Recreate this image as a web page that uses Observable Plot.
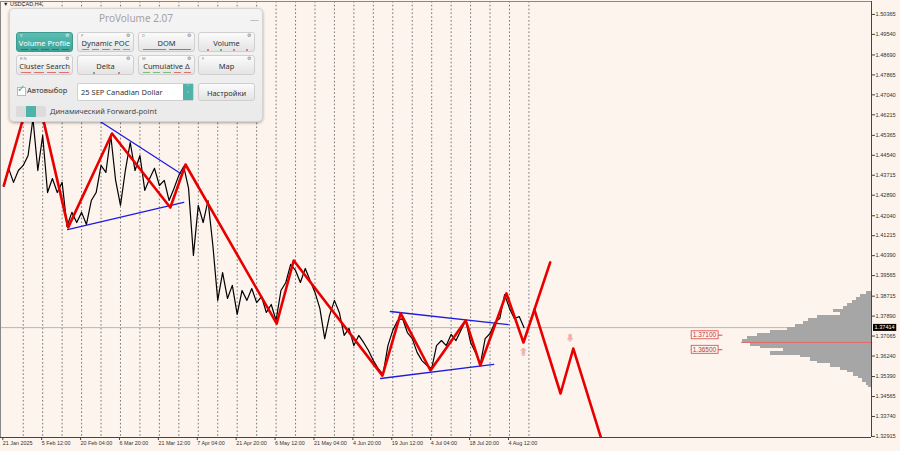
<!DOCTYPE html>
<html><head><meta charset="utf-8">
<script src="https://cdn.jsdelivr.net/npm/d3@7"></script>
<script src="https://cdn.jsdelivr.net/npm/@observablehq/plot@0.6"></script>
<style>
html,body{margin:0;padding:0;background:#fdf4ee;}
#wrap{position:relative;width:900px;height:451px;overflow:hidden;background:#fdf4ee;}
#sym{position:absolute;left:3px;top:1px;font:5.5px "Liberation Sans",Arial,sans-serif;color:#222;}
#panel{position:absolute;left:9px;top:8px;width:252px;height:112px;background:linear-gradient(#f4f4f4,#eaeaea);border:1px solid #d4d4d4;border-radius:5px;box-shadow:0 1px 3px rgba(0,0,0,0.35);font-family:"Noto Sans","Open Sans",sans-serif;}
#ptitle{position:absolute;left:0;top:2px;width:100%;text-align:center;font-size:10px;color:#a3a3a3;}
#pmin{position:absolute;left:240px;top:4px;font-size:9px;color:#999;}
.btn{position:absolute;width:57px;height:20px;background:linear-gradient(#fbfbfb,#e4e4e4);border:1px solid #cfcfcf;border-radius:3px;box-sizing:border-box;}
.btn .lab{position:absolute;left:0;top:5px;width:100%;text-align:center;font-size:7.5px;color:#333;}
.btn .key{position:absolute;left:3px;top:0px;font-size:4px;color:#888;}
.btn .gear{position:absolute;right:3px;top:-1px;font-size:5px;color:#777;}
.btn.act{background:linear-gradient(#5cbdb3,#3ea398);border-color:#3a9a90;}
.btn.act .lab{color:#fff;}
.btn.act .key,.btn.act .gear{color:#e8f5f3;}
.mk{position:absolute;}
#chk{position:absolute;left:7px;top:78px;width:7px;height:7px;border:1px solid #bbb;background:#fff;}
#chkv{position:absolute;left:7px;top:72px;font-size:10px;color:#3aa69b;}
#auto{position:absolute;left:17px;top:76px;font-size:7.5px;color:#333;}
#dd{position:absolute;left:67px;top:74px;width:117px;height:18px;background:#fff;border:1px solid #d0d0d0;border-radius:2px;box-sizing:border-box;}
#ddt{position:absolute;left:3px;top:3px;font-size:7.5px;color:#333;}
#dda{position:absolute;right:0;top:0;width:10px;height:16px;background:#4fb3a9;color:#fff;font-size:5px;text-align:center;line-height:7px;}
#set{top:74px;left:188px;height:18px;}
#tog{position:absolute;left:6px;top:97px;width:30px;height:11px;background:#dcdcdc;border-radius:2px;}
#togk{position:absolute;left:10px;top:0;width:10px;height:11px;background:#4fb3a9;}
#fwd{position:absolute;left:40px;top:97px;font-size:7.5px;color:#444;}
</style></head><body>
<div id="wrap">
<div id="chart"></div>
<div id="sym">▼ USDCAD,H4</div>
<div id="panel">
 <div id="ptitle">ProVolume 2.07</div>
 <div id="pmin">—</div>
 <div id="chk"></div>
 <div id="chkv">✓</div>
 <div id="auto">Автовыбор</div>
 <div id="dd"><div id="ddt">25 SEP Canadian Dollar</div><div id="dda">˄<br>˅</div></div>
 <div class="btn" id="set"><div class="lab" style="top:4px">Настройки</div></div>
 <div id="tog"><div id="togk"></div></div>
 <div id="fwd">Динамический Forward-point</div>
</div>
</div>
<script>
// ---------- data ----------
const barStep = 8; // H4 bars between successive estimated closes
const closes = [
 1.4325,1.4400,1.4342,1.4391,1.4412,1.4453,1.4606,1.4391,1.4536,1.4300,
 1.4358,1.4300,1.4342,1.4160,1.4218,1.4176,1.4218,1.4168,1.4267,1.4300,
 1.4412,1.4383,1.4536,1.4350,1.4247,1.4391,1.4507,1.4391,1.4453,1.4309,
 1.4358,1.4400,1.4329,1.4350,1.4267,1.4317,1.4371,1.4408,1.4317,1.4040,
 1.4247,1.4176,1.4267,1.4081,1.3854,1.3969,1.3862,1.3916,1.3796,1.3895,
 1.3854,1.3903,1.3845,1.3870,1.3804,1.3837,1.3771,1.3895,1.3928,1.4003,
 1.3978,1.3928,1.3986,1.3936,1.3887,1.3821,1.3696,1.3792,1.3854,1.3804,
 1.3709,1.3738,1.3667,1.3709,1.3680,1.3647,1.3605,1.3572,1.3548,1.3667,
 1.3730,1.3771,1.3779,1.3721,1.3696,1.3639,1.3605,1.3585,1.3572,1.3667,
 1.3688,1.3667,1.3713,1.3688,1.3730,1.3771,1.3680,1.3639,1.3589,1.3696,
 1.3717,1.3763,1.3779,1.3878,1.3821,1.3779,1.3787,1.3741
];
const zzBars   = [0,50,106,178,274,299,449,477,623,653,702,760,784,827,855,899];
const zzPrices = [1.4329,1.4764,1.4156,1.4544,1.4238,1.4416,1.3758,1.4019,1.3543,1.3800,1.3564,1.3771,1.3585,1.3883,1.3680,1.4011];
const projBars   = [873,916,937,985];
const projPrices = [1.3816,1.3469,1.3655,1.3266];
const trendIds    = ["a","a","b","b","c","c","d","d"];
const trendBars   = [105,296, 151,291, 636,830, 620,806];
const trendPrices = [1.4147,1.4259, 1.4606,1.4379, 1.3808,1.3754, 1.3531,1.3589];
const profPrices = [1.3883,1.3871,1.3858,1.3846,1.3833,1.3821,1.3809,1.3796,1.3784,1.3771,1.3759,1.3747,1.3734,1.3722,1.3709,1.3697,1.3685,1.3672,1.3660,1.3647,1.3635,1.3623,1.3610,1.3598,1.3585,1.3573,1.3561,1.3548,1.3536,1.3523,1.3511,1.3499];
const profVols   = [5,11,15,19,24,28,38,31,54,63,68,76,84,101,114,124,129,121,111,88,101,71,61,54,41,31,24,18,13,9,5,3];
const pocPrice = 1.3680;
const currentPrice = 1.37414;
const levelPrices = [1.37100, 1.36500];
const levelTexts  = ["1.37100", "1.36500"];
const arrowBars   = [855, 932];
const arrowPrices = [1.3639, 1.3697];
const arrowGlyphs = ["⇧", "⇩"];
const yTicks = [1.50365,1.49540,1.48690,1.47865,1.47040,1.46215,1.45365,1.44540,1.43715,1.42890,1.42040,1.41215,1.40390,1.39565,1.38715,1.37890,1.37065,1.36240,1.35390,1.34565,1.33740,1.32915];
const xTickBars = [0,64,128,192,256,320,384,448,512,576,640,704,768,832];
const xTickLabels = ["21 Jan 2025","5 Feb 12:00","20 Feb 04:00","6 Mar 20:00","21 Mar 12:00","7 Apr 04:00","21 Apr 20:00","6 May 12:00","21 May 04:00","4 Jun 20:00","19 Jun 12:00","4 Jul 04:00","18 Jul 20:00","4 Aug 12:00"];
const gridBars = [32,64,96,128,160,192,224,256,288,320,352,384,416,448,480,512,544,576,608,640,672,704,736,768,800,832,864];
const xDomain = [-5.4, 1427.6];
const yDomain = [1.3287, 1.5090];

// ---------- derived tables ----------
const series = closes.map((p, i) => ({bar: i * barStep, price: p}));
const zigzag = zzBars.map((b, i) => ({bar: b, price: zzPrices[i]}));
const proj = projBars.map((b, i) => ({bar: b, price: projPrices[i]}));
const trends = trendBars.map((b, i) => ({id: trendIds[i], bar: b, price: trendPrices[i]}));
const xRight = xDomain[1];
const volToBars = 1.6453; // profile length units -> bar units
const rowHalf = 0.0007;
const profile = profPrices.map((p, i) => ({price: p, vol: profVols[i]}));
const levels = levelPrices.map((p, i) => ({price: p, text: levelTexts[i]}));
const arrows = arrowBars.map((b, i) => ({bar: b, price: arrowPrices[i], g: arrowGlyphs[i]}));
const levelBar = 1131, levelTickEnd = 1183, pocStart = 1214;
const curText = d3.format(".5f")(currentPrice);

const chart = Plot.plot({
  width: 900, height: 451,
  marginLeft: 0, marginRight: 29, marginTop: 1, marginBottom: 14,
  style: {background: "transparent", fontFamily: "Liberation Sans, Arial, sans-serif", color: "#333"},
  x: {domain: xDomain, axis: null},
  y: {domain: yDomain, axis: null},
  marks: [
    Plot.ruleX(gridBars, {stroke: "#555", strokeWidth: 0.8, strokeDasharray: "1.6,2.2"}),
    Plot.ruleY([currentPrice], {stroke: "#b8b8b8", strokeWidth: 1}),
    Plot.rect(profile, {x1: d => xRight - d.vol * volToBars, x2: xRight, y1: d => d.price - rowHalf, y2: d => d.price + rowHalf, fill: "#a6a6a6", shapeRendering: "crispEdges"}),
    Plot.ruleY([pocPrice], {x1: pocStart, x2: xRight, stroke: "#e06a6a", strokeWidth: 1}),
    Plot.ruleY(levels, {y: "price", x1: levelBar, x2: levelTickEnd, stroke: "#d44", strokeWidth: 1}),
    Plot.line(series, {x: "bar", y: "price", stroke: "#000", strokeWidth: 1.2, clip: true}),
    Plot.line(trends, {x: "bar", y: "price", z: "id", stroke: "#1c1ce0", strokeWidth: 1.3}),
    Plot.line(zigzag, {x: "bar", y: "price", stroke: "#e80000", strokeWidth: 2.6, clip: true}),
    Plot.line(proj, {x: "bar", y: "price", stroke: "#e80000", strokeWidth: 2.6, clip: true}),
    Plot.text(arrows, {x: "bar", y: "price", text: "g", fill: "#fff", stroke: "#e87070", strokeWidth: 0.8, fontSize: 9, fontFamily: "DejaVu Sans"}),
    Plot.text(levels, {x: levelBar, y: "price", text: "text", textAnchor: "start", dx: 1.5, fill: "#b83a3a", fontSize: 6.5}),
    Plot.ruleX([xRight], {stroke: "#444", strokeWidth: 1}),
    Plot.ruleY([yDomain[0]], {stroke: "#444", strokeWidth: 1}),
    Plot.ruleY([yDomain[1]], {stroke: "#888", strokeWidth: 1}),
    Plot.ruleX([xDomain[0]], {stroke: "#888", strokeWidth: 1}),
    Plot.axisY(yTicks, {anchor: "right", label: null, tickSize: 3, tickPadding: 1, fontSize: 5.6, tickFormat: d3.format(".5f"), stroke: "#444", fill: "#333"}),
    Plot.axisX(xTickBars, {anchor: "bottom", label: null, tickSize: 3, tickPadding: 1, fontSize: 5.4, textAnchor: "start", dx: -1, tickFormat: d => xTickLabels[xTickBars.indexOf(d)], stroke: "#444", fill: "#333"}),
    Plot.text([currentPrice], {x: xRight, y: d => d, text: () => curText, textAnchor: "start", dx: 3, fill: "#fff", fontSize: 5.6})
  ]
});
document.getElementById("chart").appendChild(chart);

// boxes behind level labels and current price label
const svg = chart.tagName.toLowerCase() === "svg" ? chart : chart.querySelector("svg");
svg.querySelectorAll("text").forEach(t => {
  const s = t.textContent;
  const isLevel = levelTexts.includes(s);
  const g = t.closest("g");
  const isCur = s === curText && g && g.getAttribute("fill") === "#fff";
  if (!isLevel && !isCur) return;
  const b = t.getBBox();
  const r = document.createElementNS("http://www.w3.org/2000/svg", "rect");
  r.setAttribute("x", b.x - 1.5); r.setAttribute("y", b.y - 0.5);
  r.setAttribute("width", b.width + 3); r.setAttribute("height", b.height + 1);
  const tr = t.getAttribute("transform"); if (tr) r.setAttribute("transform", tr);
  if (isLevel) { r.setAttribute("fill", "#fdf4ee"); r.setAttribute("stroke", "#d44"); r.setAttribute("stroke-width", "0.8"); }
  else { r.setAttribute("fill", "#000"); }
  t.parentNode.insertBefore(r, t);
});

// ---------- panel buttons ----------
const panel = document.getElementById("panel");
const btnDefs = [
  {t: "Volume Profile", k: "V", c: 0, r: 0, act: true, m: ["d", ["#1f7d73","#1f7d73","#1f7d73","#1f7d73","#1f7d73"]]},
  {t: "Dynamic POC", k: "P", c: 1, r: 0, m: ["d", ["#e07070","#e07070","#e07070","#e07070","#6cbf6c"]]},
  {t: "DOM", k: "D", c: 2, r: 0, m: ["d", ["#5aa55a","#e05a5a"]]},
  {t: "Volume", k: "", c: 3, r: 0, m: ["o", ["#e05a5a","#4aa04a","#e05a5a","#e05a5a"]]},
  {t: "Cluster Search", k: "R  N", c: 0, r: 1, m: ["d", ["#e07070","#e07070","#e07070","#e07070"]]},
  {t: "Delta", k: "", c: 1, r: 1, m: ["o", ["#4aa04a","#e05a5a"]]},
  {t: "Cumulative Δ", k: "M", c: 2, r: 1, m: ["d", ["#7cbf7c","#7cbf7c","#7cbf7c","#e07070","#e07070"]]},
  {t: "Map", k: "F", c: 3, r: 1, m: null}
];
const colL = [6, 67, 128, 188], rowT = [23, 46];
btnDefs.forEach(b => {
  const el = document.createElement("div");
  el.className = "btn" + (b.act ? " act" : "");
  el.style.left = colL[b.c] + "px"; el.style.top = rowT[b.r] + "px";
  el.innerHTML = `<div class="key">${b.k}</div><div class="gear">⚙</div><div class="lab">${b.t}</div>`;
  if (b.m) {
    const [type, cols] = b.m, n = cols.length, w = 51, seg = w / n;
    cols.forEach((c, i) => {
      const d = document.createElement("div");
      d.className = "mk";
      if (type === "d") { d.style.left = (3 + i * seg + 1) + "px"; d.style.top = "16px"; d.style.width = (seg - 3) + "px"; d.style.height = "1px"; }
      else { d.style.left = (3 + i * seg + seg / 2 - 1) + "px"; d.style.top = "15.5px"; d.style.width = "2px"; d.style.height = "2px"; d.style.borderRadius = "1px"; }
      d.style.background = c;
      el.appendChild(d);
    });
  }
  panel.appendChild(el);
});
</script>
</body></html>
